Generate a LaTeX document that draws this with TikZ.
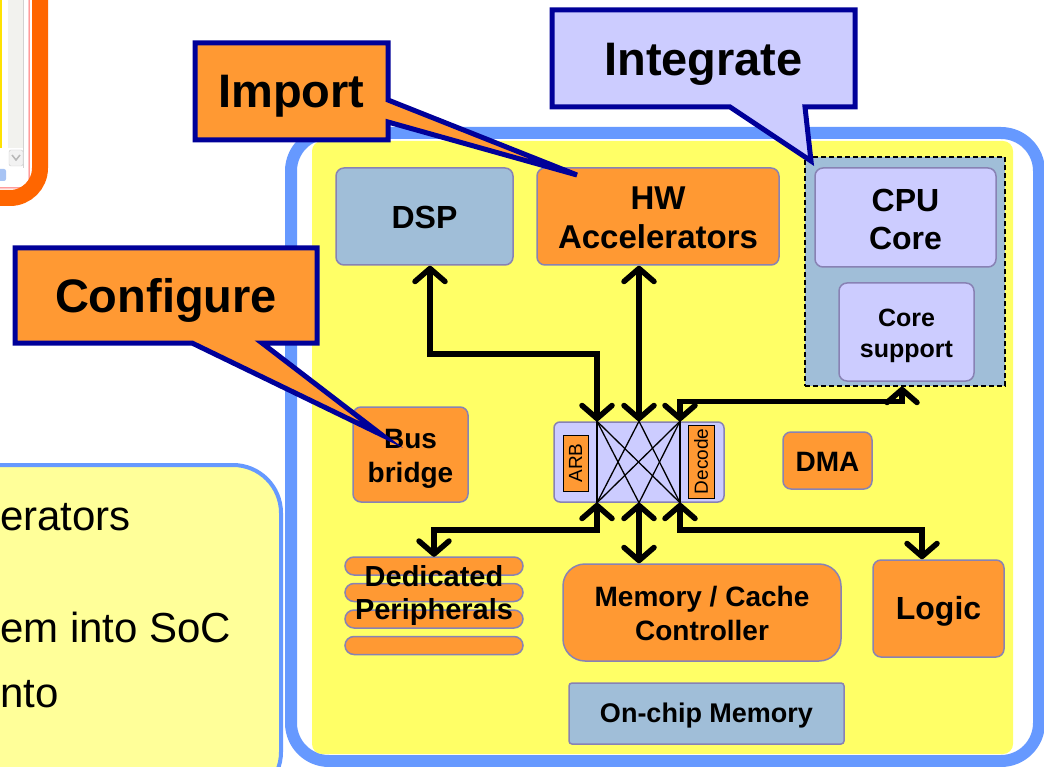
\documentclass[tikz,border=0pt]{standalone}
\usepackage{fontspec}
\setmainfont{Liberation Sans}
\usetikzlibrary{arrows.meta}
\definecolor{borange}{HTML}{FF9933}
\definecolor{lav}{HTML}{CCCCFF}
\definecolor{steel}{HTML}{A0BED8}
\definecolor{nborder}{HTML}{8882B4}
\definecolor{dblue}{HTML}{000099}
\definecolor{fblue}{HTML}{6699FF}
\definecolor{syellow}{HTML}{FFFF66}
\definecolor{lyellow}{HTML}{FFFF99}
\definecolor{winorange}{HTML}{FF6600}
\definecolor{wingray}{HTML}{F2F2EE}
\definecolor{winblue}{HTML}{A8C4F4}
\newcommand\myfs[2]{\fontsize{#1}{#2}\selectfont}
\begin{document}
\begin{tikzpicture}[x=1pt,y=-1pt,
  blk/.style={draw=nborder, line width=1.5pt, rounded corners=8pt, inner sep=0pt},
  txt/.style={inner sep=0pt, align=center},
  callout/.style={draw=dblue, line width=5pt, line join=miter},
  conn/.style={line width=5.5pt, line join=miter, {Straight Barb[length=13pt,width=30pt,round]}-{Straight Barb[length=13pt,width=30pt,round]}},
  xline/.style={line width=1.3pt, black}
]
\useasboundingbox (0,0) rectangle (1044,767);
\fill[white] (0,0) rectangle (1044,767);

% ---- top-left window remnant ----
\fill[yellow!85!orange] (0,0) rectangle (2,148);
\fill[wingray] (8,0) rectangle (23,148);
\draw[gray!35, line width=0.8pt] (23.5,0) -- (23.5,168);
\draw[gray!40, fill=gray!10, rounded corners=2pt] (9,150) rectangle (23,166);
\draw[gray!55, line width=1.5pt] (12,155) -- (16,160) -- (20,155);
\fill[winblue, rounded corners=2pt] (-4,169) rectangle (6,181);
\draw[red!60, line width=1pt, rounded corners=8pt] (29,-5) -- (29,188) -- (-5,188);
\draw[winorange, line width=16pt, rounded corners=30pt] (40,-20) -- (40,198) -- (-20,198);

% ---- bottom-left text box ----
\draw[fblue, line width=4pt, fill=lyellow, rounded corners=48pt] (-60,465) rectangle (281,800);
\node[anchor=base west, inner sep=0pt, font=\myfs{42}{50}] (t1) at (0,530) {erators};
\node[anchor=base west, inner sep=0pt, font=\myfs{42}{50}] (t2) at (0,642) {em into SoC};
\node[anchor=base west, inner sep=0pt, font=\myfs{42}{50}] (t3) at (0,707) {nto};

% ---- SoC frame ----
\draw[fblue, line width=12pt, rounded corners=38pt, fill=white] (291,133) rectangle (1039,761);
\fill[syellow, rounded corners=10pt] (312,141) rectangle (1013,754);

% ---- blocks ----
\node[blk, fill=steel, minimum width=177pt, minimum height=97pt] (dsp) at (424.5,216.5) {};
\node[txt, font=\myfs{32}{38}\bfseries] (dspt) at (424.5,217) {DSP};
\node[blk, fill=borange, minimum width=242pt, minimum height=97pt] (hw) at (658,216.5) {};
\node[txt, font=\myfs{33}{39}\bfseries] (hwt) at (658,217.5) {HW\\Accelerators};
\node[draw=black, dash pattern=on 5pt off 3pt, line width=1.5pt, fill=steel, minimum width=200pt, minimum height=229pt, inner sep=0pt] (cpugrp) at (905,271.5) {};
\node[blk, fill=lav, minimum width=181pt, minimum height=99pt] (cpu) at (905.5,217.5) {};
\node[txt, font=\myfs{32}{38}\bfseries] (cput) at (905.5,219.5) {CPU\\Core};
\node[blk, fill=lav, minimum width=135pt, minimum height=98pt] (coresup) at (906.5,332) {};
\node[txt, font=\myfs{25}{31}\bfseries] (coresupt) at (906.5,335.5) {Core\\support};

\node[blk, fill=lav, rounded corners=6pt, minimum width=170pt, minimum height=80pt] (xbar) at (639,462) {};
\node[draw=black, line width=1pt, fill=borange, rotate=90, minimum width=56pt, minimum height=25pt, inner sep=0pt, font=\myfs{19}{22}] (arb) at (575.5,463) {ARB};
\node[draw=black, line width=1pt, fill=borange, rotate=90, minimum width=73pt, minimum height=26pt, inner sep=0pt, font=\myfs{19}{22}] (dec) at (701,461.5) {Decode};
\coordinate (xt1) at ([xshift=-42pt]xbar.north);
\coordinate (xt2) at (xbar.north);
\coordinate (xt3) at ([xshift=41pt]xbar.north);
\coordinate (xb1) at ([xshift=-42pt]xbar.south);
\coordinate (xb2) at (xbar.south);
\coordinate (xb3) at ([xshift=41pt]xbar.south);
\draw[xline] (xt1) -- (xb1) (xt3) -- (xb3);
\foreach \a/\b in {xt1/xb2, xt1/xb3, xt2/xb1, xt2/xb3, xt3/xb1, xt3/xb2} \draw[xline] (\a) -- (\b);

\node[blk, fill=borange, minimum width=115pt, minimum height=95pt] (bus) at (410.5,454.5) {};
\node[txt, font=\myfs{28}{34}\bfseries] (bust) at (410.5,458.5) {Bus\\bridge};
\node[blk, fill=borange, minimum width=89pt, minimum height=57pt] (dma) at (827.5,460.5) {};
\node[txt, font=\myfs{28}{34}\bfseries] (dmat) at (827.5,461.5) {DMA};

% dedicated peripherals (stack of bars)
\node[inner sep=0pt, minimum width=178pt, minimum height=97pt] (ded) at (434,605.5) {};
\foreach \y in {557,583.5,610,636.5}
  \draw[draw=nborder, line width=1.5pt, fill=borange, rounded corners=9pt] (345,\y) rectangle (523,\y+18);
\node[txt, font=\myfs{29}{33}\bfseries] (dedt) at (434,595) {Dedicated\\Peripherals};

\node[blk, fill=borange, rounded corners=22pt, minimum width=278pt, minimum height=97pt] (mem) at (702,612.5) {};
\node[txt, font=\myfs{28}{34}\bfseries] (memt) at (702,613.5) {Memory / Cache\\Controller};
\node[blk, fill=borange, minimum width=131pt, minimum height=97pt] (logic) at (938.5,608.5) {};
\node[txt, font=\myfs{32}{38}\bfseries] (logict) at (938.5,611.5) {Logic};
\node[blk, fill=steel, rounded corners=3pt, minimum width=275pt, minimum height=61pt] (onchip) at (706.5,713.5) {};
\node[txt, font=\myfs{27}{32}\bfseries] (onchipt) at (706.5,716) {On-chip Memory};

% ---- connectors ----
\draw[conn] ([xshift=5.5pt]dsp.south) -- ++(0,88) -| (xt1);
\draw[conn] (xt2 |- hw.south) -- (xt2);
\draw[conn] (xt3) -- ++(0,-20) -| ([xshift=-3pt]cpugrp.south);
\draw[conn] (xb1) -- ++(0,27) -| (ded.north);
\draw[conn] (xb2) -- (xb2 |- mem.north);
\draw[conn] (xb3) -- ++(0,27) -| ([xshift=-16.5pt]logic.north);

% ---- callouts ----
\path[callout, fill=borange] (195,43) -- (388,43) -- (388,100) -- (577,175) -- (388,122) -- (388,140) -- (195,140) -- cycle;
\node[txt, font=\myfs{47}{56}\bfseries] (imp) at (291.5,96) {Import};
\path[callout, fill=lav] (552,10) -- (855,10) -- (855,107) -- (805,107) -- (811,161) -- (730,107) -- (552,107) -- cycle;
\node[txt, font=\myfs{47}{56}\bfseries] (integ) at (703.5,64) {Integrate};
\path[callout, fill=borange] (15,248) -- (317,248) -- (317,343) -- (262,343) -- (382,435) -- (192,343) -- (15,343) -- cycle;
\node[txt, font=\myfs{47}{56}\bfseries] (conf) at (166,300) {Configure};
\end{tikzpicture}
\end{document}
